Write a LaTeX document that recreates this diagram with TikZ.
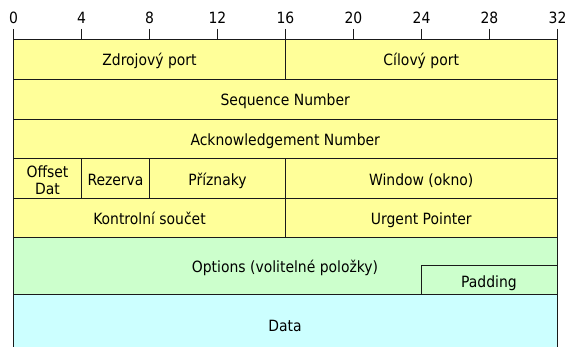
\documentclass[tikz,border=0pt]{standalone}
\usepackage{fontspec}
\setmainfont{DejaVu Sans Condensed}
\definecolor{hdryellow}{HTML}{FFFF99}
\definecolor{optgreen}{HTML}{CCFFCC}
\definecolor{datacyan}{HTML}{CCFFFF}
\definecolor{rule}{HTML}{1A1A1A}
\begin{document}
\begin{tikzpicture}[x=1pt,y=-1pt,
  font=\fontsize{15.5}{18}\selectfont,
  cell/.style={draw=rule, line width=1pt, inner sep=0pt, outer sep=0pt,
    anchor=north west},
  hdr/.style={cell, fill=hdryellow},
  lbl/.style={inner sep=0pt, anchor=base},
  scalelbl/.style={inner sep=0pt, anchor=base}]
\useasboundingbox (0,0) rectangle (568,347);
% bit scale: one bit is 17pt wide, bit 0 at x = 13.5
\def\bx#1{13.5+17*#1}
% data area (open at the bottom)
\node[inner sep=0pt, outer sep=0pt, fill=datacyan, anchor=north west,
  minimum width=543.5pt, minimum height=60pt] (data) at (13.5,295) {};
\node[lbl] at (285,332) {Data};
\draw[rule, line width=1pt] (data.north west) -- (data.south west)
  (data.north east) -- (data.south east);
% options row with padding
\node[cell, fill=optgreen, minimum width=543.5pt, minimum height=57pt] (opts) at (13.5,238) {};
\node[lbl] at (285,273) {Options (volitelné položky)};
\node[cell, fill=optgreen, minimum width=136pt, minimum height=29pt] (pad) at (421.5,266) {};
\node[lbl] at (489,288) {Padding};
% header rows
\node[hdr, minimum width=272pt, minimum height=40pt] (src) at (13.5,40) {};
\node[lbl] at (src.center) [yshift=-6pt] {Zdrojový port};
\node[hdr, minimum width=271.5pt, minimum height=40pt] (dst) at (285.5,40) {};
\node[lbl] at (dst.center) [yshift=-6pt] {Cílový port};
\node[hdr, minimum width=543.5pt, minimum height=40pt] (seq) at (13.5,80) {};
\node[lbl] at (seq.center) [yshift=-6pt] {Sequence Number};
\node[hdr, minimum width=543.5pt, minimum height=39pt] (ack) at (13.5,120) {};
\node[lbl] at (ack.center) [yshift=-6pt] {Acknowledgement Number};
\node[hdr, minimum width=68pt, minimum height=40pt] (off) at (13.5,159) {};
\node[lbl] at (47.5,178) {Offset};
\node[lbl] at (47.5,195) {Dat};
\node[hdr, minimum width=68pt, minimum height=40pt] (rez) at (81.5,159) {};
\node[lbl] at (rez.center) [yshift=-6.5pt] {Rezerva};
\node[hdr, minimum width=136pt, minimum height=40pt] (flags) at (149.5,159) {};
\node[lbl] at (flags.center) [yshift=-6.5pt] {Příznaky};
\node[hdr, minimum width=271.5pt, minimum height=40pt] (win) at (285.5,159) {};
\node[lbl] at (win.center) [yshift=-6.5pt] {Window (okno)};
\node[hdr, minimum width=272pt, minimum height=39pt] (chk) at (13.5,199) {};
\node[lbl] at (chk.center) [yshift=-6pt] {Kontrolní součet};
\node[hdr, minimum width=271.5pt, minimum height=39pt] (urg) at (285.5,199) {};
\node[lbl] at (urg.center) [yshift=-6pt] {Urgent Pointer};
% bit scale ticks and numbers
\foreach \b in {0,4,...,32}{
  \node[scalelbl] (n\b) at ({\bx{\b}},24) {\b};
  \draw[rule, line width=1pt] ({\bx{\b}},29) -- ({\bx{\b}},40);
}
\end{tikzpicture}
\end{document}
